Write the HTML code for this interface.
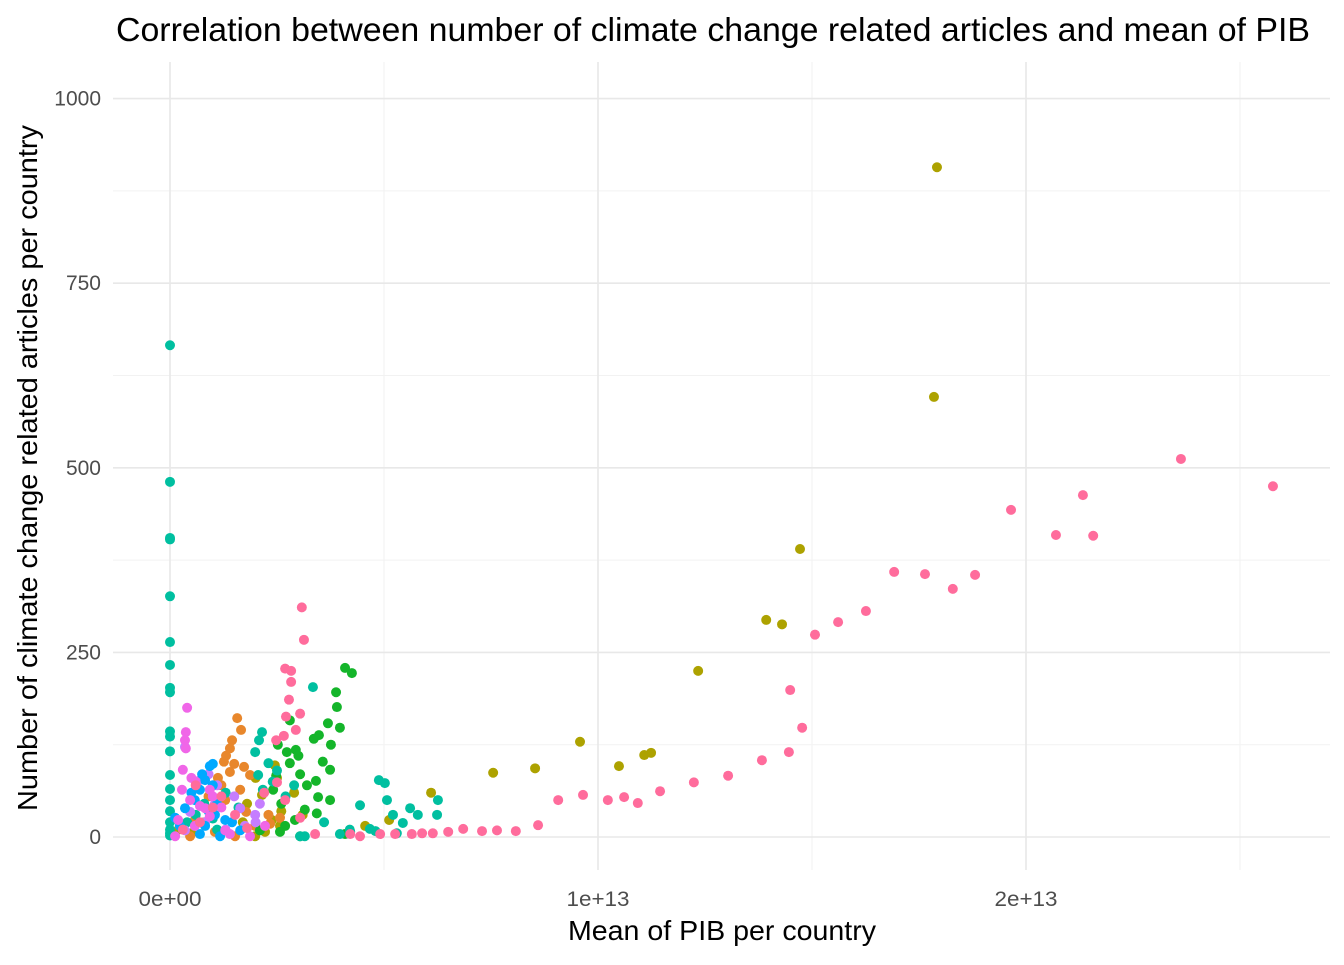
<!DOCTYPE html>
<html><head><meta charset="utf-8"><style>
html,body{margin:0;padding:0;background:#fff}
svg text{font-family:"Liberation Sans",Arial,sans-serif}
</style></head><body>
<svg id="chart" width="1344" height="960" viewBox="0 0 1344 960" xmlns="http://www.w3.org/2000/svg">
<g id="grid"></g>
<g id="points"></g>
<g id="axes"></g>
<text x="116" y="41" font-size="23.5" fill="#000" textLength="1194" lengthAdjust="spacingAndGlyphs" style="font-size:33px">Correlation between number of climate change related articles and mean of PIB</text>
<text x="722" y="940" text-anchor="middle" fill="#000" style="font-size:28px" textLength="308" lengthAdjust="spacingAndGlyphs">Mean of PIB per country</text>
<text transform="translate(37,468) rotate(-90)" text-anchor="middle" fill="#000" style="font-size:28px" textLength="686" lengthAdjust="spacingAndGlyphs">Number of climate change related articles per country</text>
</svg>
<script>
// x values in units of 1e12
const xTicks=[0,10,20];
const xTickLabels=["0e+00","1e+13","2e+13"];
const yTicks=[0,250,500,750,1000];
const yTickLabels=["0","250","500","750","1000"];
const pinkX=[25.77,23.62,21.33,21.57,20.7,19.65,18.81,18.29,17.64,16.92,16.26,15.61,15.07,14.77,14.49,14.46,13.83,13.04,12.24,11.45,10.93,10.61,10.23,9.65,9.07,8.6,8.08,7.64,7.29,6.85,6.5,6.14,5.89,5.65,3.08,3.13,2.69,2.83,2.83,2.78,2.71,2.94,3.04,2.48,2.66,2.5,2.69,3.04,3.39,4.21,4.91,4.44,5.26,0.7,0.3,1.0,1.52,2.2,1.2,0.6,1.8];
const pinkY=[475,512,463,408,409,443,355,336,356,359,306,291,274,148,199,115,104,83,74,62,46,54,50,57,50,16,8,9,8,11,7,5,5,4,311,267,228,225,210,186,163,145,167,131,137,74,50,26,4,4,4,1,4,20,10,40,30,60,55,70,12];
const oliveX=[17.92,17.85,14.72,13.93,14.3,12.34,9.58,11.24,11.08,10.49,8.53,7.55,6.1,2.45,2.5,2.15,2.38,2.57,2.22,1.99,5.12,4.56,2.9,3.1,0.2,0.5,1.8,2.0,2.6,1.7];
const oliveY=[907,596,390,294,288,225,129,114,111,96,93,87,60,97,80,57,23,15,7,1,23,15,60,30,10,5,45,80,35,20];
const orangeX=[1.57,1.66,1.45,1.4,1.31,1.26,1.5,1.12,1.73,1.87,1.64,1.29,0.93,1.78,0.58,1.99,1.05,1.52,0.47,2.57,2.34,1.2,0.9,2.3,1.4,0.3,0.8];
const orangeY=[161,145,131,120,110,102,99,80,95,84,64,50,34,34,23,15,7,1,1,26,18,70,55,30,88,10,20];
const greenX=[4.09,4.25,3.88,3.9,3.97,3.69,3.48,3.36,3.76,3.57,3.74,3.04,3.41,2.94,2.73,2.8,2.52,2.48,2.41,3.46,3.43,3.74,3.15,2.92,2.69,2.57,2.1,4.09,3.04,2.6,3.2,2.8,3.0];
const greenY=[229,222,196,176,148,154,138,133,125,102,91,85,76,118,115,158,125,83,64,54,32,50,37,23,15,7,9,4,1,45,70,100,110];
const tealX=[0,0,0,0,0,0,0,0,0,0,0,0,0,0,0,0,0,0,0,0,2.15,2.08,1.99,2.06,2.17,3.34,4.88,5.02,5.07,5.21,4.44,5.61,6.26,6.24,5.79,5.44,4.67,4.21,3.97,3.04,3.15,1.6,1.0,1.3,2.4,2.7,0.4,0.8,3.6,4.2,4.8,5.3,2.3,2.5,2.9,1.1,0.6];
const tealY=[666,481,405,403,326,264,233,202,196,143,136,116,84,65,50,35,20,10,5,2,142,131,115,84,64,203,77,73,50,30,43,39,50,30,30,19,11,7,4,1,1,40,25,60,75,55,20,45,20,10,8,5,100,90,70,10,30];
const blueX=[0.93,1.0,0.82,0.7,0.58,0.35,1.05,1.29,1.45,1.64,0.23,0.7,0.12,1.17,0.82,0.5,1.1,0.9,0.75,1.0];
const blueY=[96,99,77,64,50,39,30,23,20,9,15,4,26,1,15,60,45,35,85,70];
const magentaX=[0.4,0.37,0.35,0.37,0.3,0.28,0.47,0.7,0.82,0.93,0.19,0.58,1.29,1.4,1.87,0.12,2.22,0.93,1.2,0.6,0.5,1.0];
const magentaY=[175,142,131,120,91,64,50,42,39,28,23,15,9,4,1,1,15,64,40,75,80,55];
const lilacX=[0.35,0.61,0.7,0.47,1.05,1.64,1.99,0.82,0.35,1.75,1.1,1.5,2.1,0.9,2.0,1.3];
const lilacY=[122,66,77,34,45,39,30,20,9,15,70,55,45,85,20,10];
const series=[
  {name:'olive',x:oliveX,y:oliveY,c:'#ADA200'},
  {name:'orange',x:orangeX,y:orangeY,c:'#E8872C'},
  {name:'green',x:greenX,y:greenY,c:'#14B52A'},
  {name:'teal',x:tealX,y:tealY,c:'#00BFA0'},
  {name:'lilac',x:lilacX,y:lilacY,c:'#C57DFF'},
  {name:'blue',x:blueX,y:blueY,c:'#00A9FF'},
  {name:'magenta',x:magentaX,y:magentaY,c:'#F066E8'},
  {name:'pink',x:pinkX,y:pinkY,c:'#FF6C9C'}
];
const NS='http://www.w3.org/2000/svg';
const L=113,R=1330,T=62,B=870;
function sx(v){return 170+v*42.8;}
function sy(v){return 837-v*0.7384;}
function mk(tag,attrs,parent){const e=document.createElementNS(NS,tag);for(const k in attrs)e.setAttribute(k,attrs[k]);parent.appendChild(e);return e;}
const grid=document.getElementById('grid'),pts=document.getElementById('points'),axes=document.getElementById('axes');
[5,15,25].forEach(v=>{const l=mk('line',{x1:sx(v),x2:sx(v),y1:T,y2:B,stroke:'#f2f2f2','stroke-width':1},grid);

});
[125,375,625,875].forEach(v=>{const l=mk('line',{x1:L,x2:R,y1:sy(v),y2:sy(v),stroke:'#f2f2f2','stroke-width':1},grid);

});
xTicks.forEach((v,i)=>{const l=mk('line',{x1:sx(v),x2:sx(v),y1:T,y2:B,stroke:'#e8e8e8','stroke-width':1.6},grid);


const t=mk('text',{x:sx(v),y:906,'text-anchor':'middle',fill:'#4d4d4d',style:'font-size:21px',textLength:63,lengthAdjust:'spacingAndGlyphs'},axes);t.textContent=xTickLabels[i];

});
yTicks.forEach((v,i)=>{const l=mk('line',{x1:L,x2:R,y1:sy(v),y2:sy(v),stroke:'#e8e8e8','stroke-width':1.6},grid);


const t=mk('text',{x:101,y:sy(v)+7,'text-anchor':'end',fill:'#4d4d4d',style:'font-size:21px'},axes);t.textContent=yTickLabels[i];

});
series.forEach(s=>{s.x.forEach((xv,i)=>{const c=mk('circle',{cx:sx(xv),cy:sy(s.y[i]),r:5,fill:s.c},pts);

});});
</script>
</body></html>
